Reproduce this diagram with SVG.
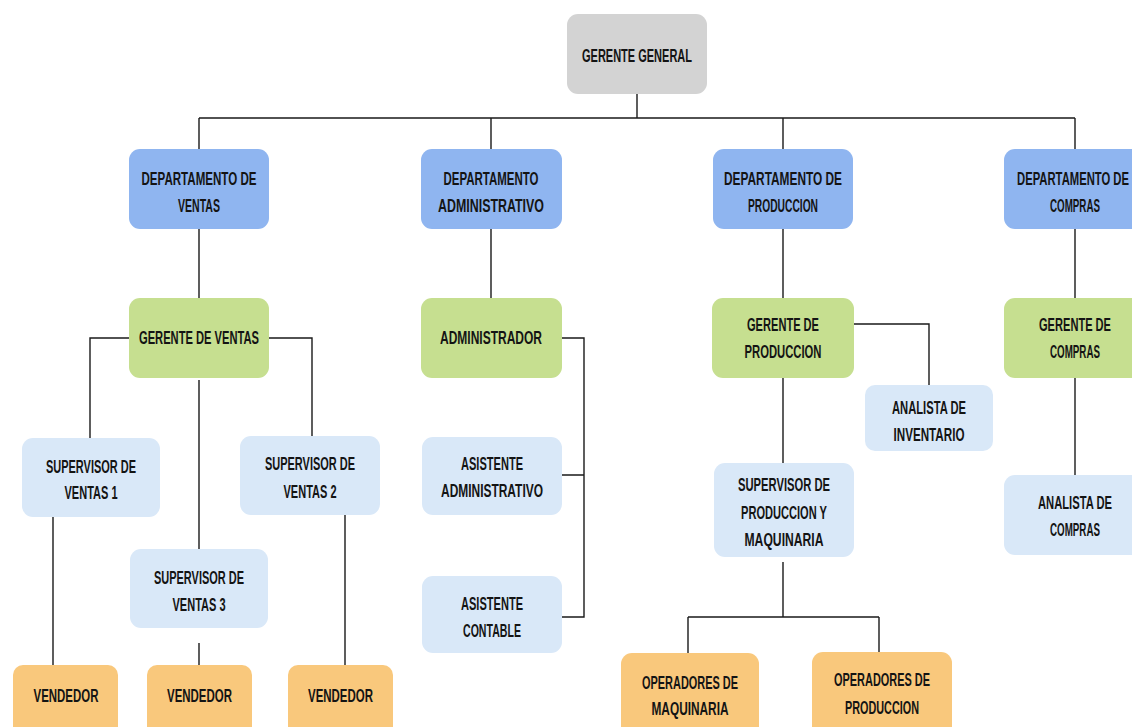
<svg xmlns="http://www.w3.org/2000/svg" width="1132" height="727" viewBox="0 0 1132 727">
<style>
  .box{stroke:none}
  .gray{fill:#d3d3d3}
  .dept{fill:#8fb5f0}
  .green{fill:#c6df90}
  .light{fill:#d9e8f8}
  .orange{fill:#f9c87c}
  text{font-family:"Liberation Sans Narrow","Liberation Sans",Arial,sans-serif;font-weight:bold;font-size:18px;fill:#141414;text-anchor:middle}
  .conn{fill:none;stroke:#1a1a1a;stroke-width:1.4}
</style>
<rect width="1132" height="727" fill="#ffffff"/>
<g id="connectors">
  <path class="conn" d="M637,94 V118 M199,118 H1075 M199,118 V149 M491,118 V149 M783,118 V149 M1075,118 V149"/>
  <path class="conn" d="M199,229 V298 M491,229 V298 M783,229 V298 M1075,229 V298"/>
  <path class="conn" d="M129,338 H90 V438 M269,338 H312 V436 M199,380 V549"/>
  <path class="conn" d="M53,517 V665 M199,643 V665 M345,515 V665"/>
  <path class="conn" d="M562,338 H584 V617 H562 M562,475 H584"/>
  <path class="conn" d="M854,324 H929 V385 M783,378 V463 M783,562 V617 M688,617 H879 M688,617 V653 M879,617 V652"/>
  <path class="conn" d="M1075,378 V475"/>
</g>
<g id="gerente-general">
  <rect class="box gray" x="567" y="14" width="140" height="80" rx="11"/>
  <text x="637" y="61.5" textLength="110" lengthAdjust="spacingAndGlyphs">GERENTE GENERAL</text>
</g>
<g id="dep-ventas">
  <rect class="box dept" x="129" y="149" width="140" height="80" rx="11"/>
  <text x="199" y="184.5" textLength="115" lengthAdjust="spacingAndGlyphs">DEPARTAMENTO DE</text>
  <text x="199" y="211.5" textLength="42" lengthAdjust="spacingAndGlyphs">VENTAS</text>
</g>
<g id="dep-admin">
  <rect class="box dept" x="421" y="149" width="141" height="80" rx="11"/>
  <text x="491" y="184.5" textLength="95" lengthAdjust="spacingAndGlyphs">DEPARTAMENTO</text>
  <text x="491" y="211.5" textLength="106" lengthAdjust="spacingAndGlyphs">ADMINISTRATIVO</text>
</g>
<g id="dep-produccion">
  <rect class="box dept" x="713" y="149" width="140" height="80" rx="11"/>
  <text x="783" y="184.5" textLength="118" lengthAdjust="spacingAndGlyphs">DEPARTAMENTO DE</text>
  <text x="783" y="211.5" textLength="70" lengthAdjust="spacingAndGlyphs">PRODUCCION</text>
</g>
<g id="dep-compras">
  <path class="box dept" d="M1015,149 H1132 V229 H1015 A11,11 0 0 1 1004,218 V160 A11,11 0 0 1 1015,149 Z"/>
  <text x="1073" y="184.5" textLength="112" lengthAdjust="spacingAndGlyphs">DEPARTAMENTO DE</text>
  <text x="1075" y="211.5" textLength="50" lengthAdjust="spacingAndGlyphs">COMPRAS</text>
</g>
<g id="gerente-ventas">
  <rect class="box green" x="129" y="298" width="140" height="80" rx="11"/>
  <text x="199" y="343.5" textLength="120" lengthAdjust="spacingAndGlyphs">GERENTE DE VENTAS</text>
</g>
<g id="administrador">
  <rect class="box green" x="421" y="298" width="141" height="80" rx="11"/>
  <text x="491" y="343.5" textLength="102" lengthAdjust="spacingAndGlyphs">ADMINISTRADOR</text>
</g>
<g id="gerente-produccion">
  <rect class="box green" x="712" y="298" width="142" height="80" rx="11"/>
  <text x="783" y="330.5" textLength="72" lengthAdjust="spacingAndGlyphs">GERENTE DE</text>
  <text x="783" y="357.5" textLength="77" lengthAdjust="spacingAndGlyphs">PRODUCCION</text>
</g>
<g id="gerente-compras">
  <path class="box green" d="M1015,298 H1132 V378 H1015 A11,11 0 0 1 1004,367 V309 A11,11 0 0 1 1015,298 Z"/>
  <text x="1075" y="330.5" textLength="72" lengthAdjust="spacingAndGlyphs">GERENTE DE</text>
  <text x="1075" y="357.5" textLength="50" lengthAdjust="spacingAndGlyphs">COMPRAS</text>
</g>
<g id="supervisor-ventas-1">
  <rect class="box light" x="22" y="438" width="138" height="79" rx="11"/>
  <text x="91" y="472.5" textLength="90" lengthAdjust="spacingAndGlyphs">SUPERVISOR DE</text>
  <text x="91" y="499" textLength="53" lengthAdjust="spacingAndGlyphs">VENTAS 1</text>
</g>
<g id="supervisor-ventas-2">
  <rect class="box light" x="240" y="436" width="140" height="79" rx="11"/>
  <text x="310" y="469.5" textLength="90" lengthAdjust="spacingAndGlyphs">SUPERVISOR DE</text>
  <text x="310" y="497.5" textLength="53" lengthAdjust="spacingAndGlyphs">VENTAS 2</text>
</g>
<g id="supervisor-ventas-3">
  <rect class="box light" x="130" y="549" width="138" height="79" rx="11"/>
  <text x="199" y="583.5" textLength="90" lengthAdjust="spacingAndGlyphs">SUPERVISOR DE</text>
  <text x="199" y="610.5" textLength="53" lengthAdjust="spacingAndGlyphs">VENTAS 3</text>
</g>
<g id="asistente-administrativo">
  <rect class="box light" x="422" y="437" width="140" height="78" rx="11"/>
  <text x="492" y="469.5" textLength="62" lengthAdjust="spacingAndGlyphs">ASISTENTE</text>
  <text x="492" y="496.5" textLength="102" lengthAdjust="spacingAndGlyphs">ADMINISTRATIVO</text>
</g>
<g id="asistente-contable">
  <rect class="box light" x="422" y="576" width="140" height="77" rx="11"/>
  <text x="492" y="609.5" textLength="62" lengthAdjust="spacingAndGlyphs">ASISTENTE</text>
  <text x="492" y="636.5" textLength="58" lengthAdjust="spacingAndGlyphs">CONTABLE</text>
</g>
<g id="analista-inventario">
  <rect class="box light" x="865" y="385" width="128" height="66" rx="10"/>
  <text x="929" y="413.5" textLength="74" lengthAdjust="spacingAndGlyphs">ANALISTA DE</text>
  <text x="929" y="440.5" textLength="71" lengthAdjust="spacingAndGlyphs">INVENTARIO</text>
</g>
<g id="supervisor-produccion">
  <rect class="box light" x="714" y="463" width="140" height="94" rx="11"/>
  <text x="784" y="490.5" textLength="92" lengthAdjust="spacingAndGlyphs">SUPERVISOR DE</text>
  <text x="784" y="518.5" textLength="86" lengthAdjust="spacingAndGlyphs">PRODUCCION Y</text>
  <text x="784" y="545.5" textLength="79" lengthAdjust="spacingAndGlyphs">MAQUINARIA</text>
</g>
<g id="analista-compras">
  <path class="box light" d="M1015,475 H1132 V555 H1015 A11,11 0 0 1 1004,544 V486 A11,11 0 0 1 1015,475 Z"/>
  <text x="1075" y="508.5" textLength="74" lengthAdjust="spacingAndGlyphs">ANALISTA DE</text>
  <text x="1075" y="535.5" textLength="50" lengthAdjust="spacingAndGlyphs">COMPRAS</text>
</g>
<g id="vendedor-1">
  <rect class="box orange" x="13" y="665" width="105" height="75" rx="10"/>
  <text x="66" y="701.5" textLength="65" lengthAdjust="spacingAndGlyphs">VENDEDOR</text>
</g>
<g id="vendedor-2">
  <rect class="box orange" x="147" y="665" width="105" height="75" rx="10"/>
  <text x="199.5" y="701.5" textLength="65" lengthAdjust="spacingAndGlyphs">VENDEDOR</text>
</g>
<g id="vendedor-3">
  <rect class="box orange" x="288" y="665" width="105" height="75" rx="10"/>
  <text x="340.5" y="701.5" textLength="65" lengthAdjust="spacingAndGlyphs">VENDEDOR</text>
</g>
<g id="operadores-maquinaria">
  <rect class="box orange" x="621" y="653" width="138" height="85" rx="11"/>
  <text x="690" y="688.5" textLength="96" lengthAdjust="spacingAndGlyphs">OPERADORES DE</text>
  <text x="690" y="714.5" textLength="77" lengthAdjust="spacingAndGlyphs">MAQUINARIA</text>
</g>
<g id="operadores-produccion">
  <rect class="box orange" x="812" y="652" width="140" height="86" rx="11"/>
  <text x="882" y="685.5" textLength="96" lengthAdjust="spacingAndGlyphs">OPERADORES DE</text>
  <text x="882" y="713.5" textLength="74" lengthAdjust="spacingAndGlyphs">PRODUCCION</text>
</g>
</svg>
